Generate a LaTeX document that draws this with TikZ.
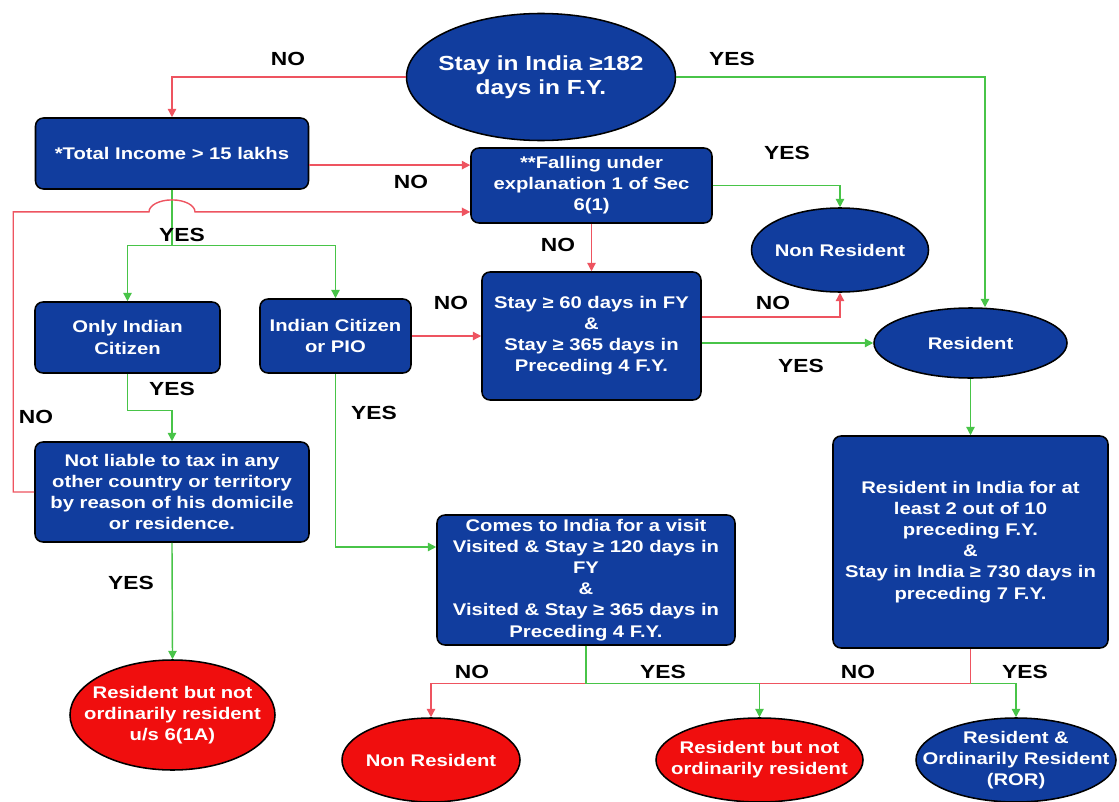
\documentclass[tikz,border=0pt]{standalone}
\usepackage{fontspec}
\setmainfont{Liberation Sans}[FakeStretch=1.2]
\usetikzlibrary{shapes.geometric,arrows.meta}
\definecolor{boxblue}{RGB}{17,61,158}
\definecolor{boxred}{RGB}{240,14,14}
\definecolor{nored}{RGB}{238,84,96}
\definecolor{yesgreen}{RGB}{72,196,72}
\newcommand{\pxu}{0.025cm}
\newcommand{\boxfont}{\fontsize{12}{15}\selectfont\bfseries}
\newcommand{\lblfont}{\fontsize{13.5}{16}\selectfont\bfseries}
\newcommand{\topfont}{\fontsize{14.5}{17}\selectfont\bfseries}

\begin{document}
\begin{tikzpicture}[x=\pxu, y=-\pxu,
  every node/.style={font=\boxfont, inner sep=1pt},
  sz/.style 2 args={minimum width=#1*\pxu, minimum height=#2*\pxu},
  qbox/.style={rectangle, draw=black, line width=1.1pt, rounded corners=0.2cm, fill=boxblue, text=white, align=center},
  qoval/.style={ellipse, draw=black, line width=1.1pt, fill=boxblue, text=white, align=center, inner xsep=-0.75cm, inner ysep=-0.3cm},
  roval/.style={qoval, fill=boxred},
  lbl/.style={font=\lblfont, text=black},
  noline/.style={draw=nored, line width=1pt, -{Triangle[length=6pt,width=6pt]}},
  yesline/.style={draw=yesgreen, line width=1pt, -{Triangle[length=6pt,width=6pt]}}]
\useasboundingbox[fill=white] (0,0) rectangle (1119,802);
% --- decision boxes ---
\node[qoval, sz={269}{127}, font=\topfont] (stay182) at (541,77) {Stay in India ≥182\\days in F.Y.};
\node[qbox, sz={273}{71}]  (totinc)   at (172,153.5) {*Total Income > 15 lakhs};
\node[qbox, sz={241}{75}]  (fall)     at (591.5,185.5) {**Falling under\\explanation 1 of Sec\\6(1)};
\node[qoval, sz={177}{84}] (nonres1)  at (840,250) {Non Resident};
\node[qbox, sz={219}{128}] (stay60)   at (591.5,336) {Stay ≥ 60 days in FY\\\&\\Stay ≥ 365 days in\\Preceding 4 F.Y.};
\node[qoval, sz={193}{70}] (resident) at (970.5,343) {Resident};
\node[qbox, sz={185}{71}]  (only)     at (127.5,337.5) {Only Indian\\Citizen};
\node[qbox, sz={151}{74}]  (pio)      at (335.5,336) {Indian Citizen\\or PIO};
\node[qbox, sz={274}{100}] (notliable) at (172,492) {Not liable to tax in any\\other country or territory\\by reason of his domicile\\or residence.};
\node[qbox, sz={298}{130}] (comes)    at (586,580) {Comes to India for a visit\\Visited \& Stay ≥ 120 days in\\FY\\\&\\Visited \& Stay ≥ 365 days in\\Preceding 4 F.Y.};
\node[qbox, sz={275}{212}] (rightbox) at (970.5,542) {Resident in India for at\\least 2 out of 10\\preceding F.Y.\\\&\\Stay in India ≥ 730 days in\\preceding 7 F.Y.};
% --- outcomes ---
\node[roval, sz={205}{110}] (rnor1)  at (172.5,715) {Resident but not\\ordinarily resident\\u/s 6(1A)};
\node[roval, sz={178}{84}]  (nonres2) at (431,760) {Non Resident};
\node[roval, sz={207}{84}]  (rnor2)  at (759.5,760) {Resident but not\\ordinarily resident};
\node[qoval, sz={200}{84}]  (ror)    at (1016,760) {Resident \&\\Ordinarily Resident\\(ROR)};
% --- top decision ---
\draw[noline] (stay182.west) -| (totinc.north);
\coordinate (rtop) at ([xshift=0.3625cm]resident.north);
\draw[yesline] (stay182.east) -| (rtop);
\coordinate (tiOut) at ([yshift=-0.29cm]totinc.east);
\draw[noline] (tiOut) -- (tiOut -| fall.west);
\draw[yesline] (fall.east) -| (nonres1.north);
\draw[noline] (fall.south) -- (stay60.north);
\coordinate (s60No) at ([yshift=0.475cm]stay60.east);
\draw[noline] (s60No) -| (nonres1.south);
\draw[yesline] (stay60.east |- resident.west) -- (resident.west);
\draw[yesline] (resident.south) -- (rightbox.north);
% --- citizen branch ---
\draw[yesline] (totinc.south) -- ++(0,56) -| (only.north);
\draw[yesline] (totinc.south) ++(0,56) -| (pio.north);
\draw[noline] (pio.east) -- (pio.east -| stay60.west);
\draw[yesline] (only.south) -- ++(0,37) -| (notliable.north);
\coordinate (cIn) at ([yshift=0.825cm]comes.west);
\draw[yesline] (pio.south) |- (cIn);
\draw[yesline] (notliable.south) -- (rnor1.north);
% loop back, hopping over the YES line
\coordinate (lpIn) at ([yshift=-0.66cm]fall.west);
\coordinate (hop) at (totinc.south |- lpIn);
\draw[noline] (notliable.west) -- ++(-21,0) |- ([xshift=-0.575cm]hop)
  arc[start angle=180, end angle=0, x radius=0.575cm, y radius=0.3cm] -- (lpIn);
% --- bottom outcomes ---
\draw[noline] (comes.south) -- ++(0,38) -| (nonres2.north);
\draw[noline, -] (rightbox.south) -- ++(0,35) -| (rnor2.north);
\draw[yesline] (comes.south) -- ++(0,38) -| (rnor2.north);
\draw[yesline] (rightbox.south) ++(0,35) -| (ror.north);
% --- labels ---
\node[lbl] (lNo1)  at (288,59)  {NO};
\node[lbl] (lYes1) at (732,59)  {YES};
\node[lbl] (lNo2)  at (411,182) {NO};
\node[lbl] (lYes2) at (787,153) {YES};
\node[lbl] (lNo3)  at (558,245) {NO};
\node[lbl] (lNo4)  at (773,303) {NO};
\node[lbl] (lYes3) at (801,366) {YES};
\node[lbl] (lNo5)  at (451,303) {NO};
\node[lbl] (lYes4) at (182,235) {YES};
\node[lbl] (lYes5) at (172,389) {YES};
\node[lbl] (lNo6)  at (36,417)  {NO};
\node[lbl] (lYes6) at (374,413) {YES};
\node[lbl] (lYes7) at (131,583) {YES};
\node[lbl] (lNo7)  at (472,672) {NO};
\node[lbl] (lYes8) at (663,672) {YES};
\node[lbl] (lNo8)  at (858,672) {NO};
\node[lbl] (lYes9) at (1025,672) {YES};
\end{tikzpicture}
\end{document}
